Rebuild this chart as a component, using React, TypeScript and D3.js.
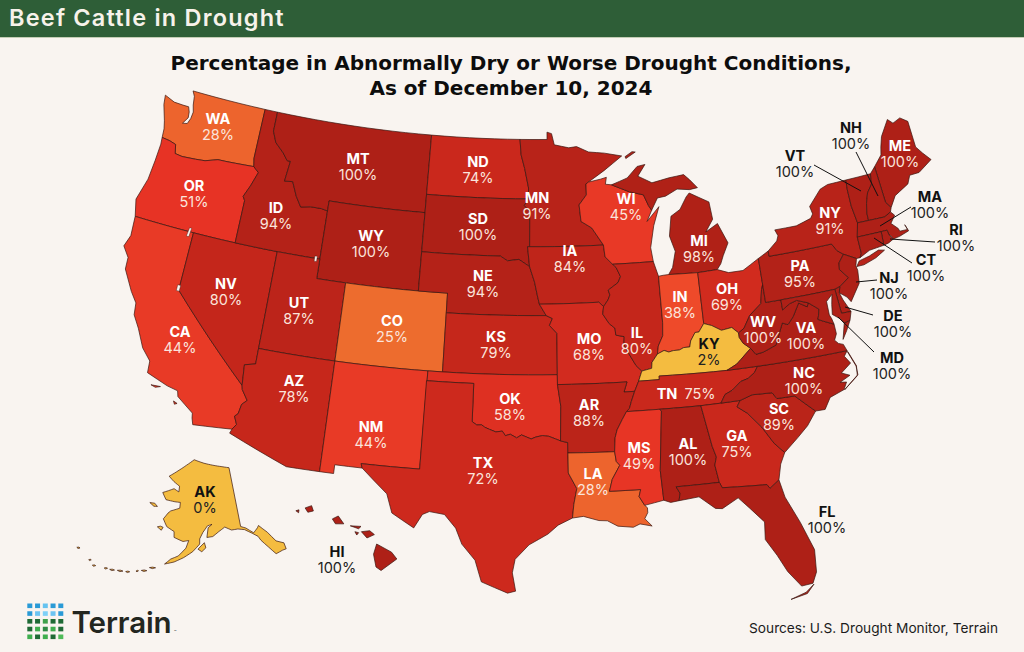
import { useEffect, useRef } from 'react';
import * as d3 from 'd3';

type Pt = [number, number];

const rev = (a: Pt[]): Pt[] => [...a].reverse();

// Drought share per state
const stateCodes = ['WA','OR','CA','NV','ID','MT','WY','UT','AZ','CO','NM','ND','SD','NE','KS','OK','TX','MN','IA','MO','AR','LA','WI','IL','MI','IN','OH','KY','TN','MS','AL','GA','FL','SC','NC','VA','WV','PA','NY','ME','VT','NH','MA','RI','CT','NJ','DE','MD','AK','HI'];
const statePct = [28,51,44,80,94,100,100,87,78,25,44,74,100,94,79,58,72,91,84,68,88,28,45,80,98,38,69,2,75,49,100,75,100,89,100,100,100,95,91,100,100,100,100,100,100,100,100,100,0,100];

// Shared borders, lon/lat
const waOr: Pt[] = [[-124,46.25],[-123.4,46.2],[-122.9,46.1],[-122.75,45.65],[-122.2,45.6],[-121.2,45.65],[-120.5,45.7],[-119.6,45.92],[-119,45.93],[-116.92,46]];
const orId: Pt[] = [[-116.92,46],[-116.5,45.75],[-116.85,45],[-117.2,44.4],[-117.03,44.2],[-117.03,42]];
const caAz: Pt[] = [[-114.63,35],[-114.57,34.8],[-114.14,34.3],[-114.43,34.05],[-114.53,33.55],[-114.72,33.4],[-114.5,33],[-114.72,32.72]];
const idMt: Pt[] = [[-116.05,48],[-115.7,47.45],[-115,47],[-114.6,46.65],[-114.35,46.65],[-114.5,45.6],[-113.9,45.65],[-113.45,44.95],[-113,44.45],[-112.3,44.55],[-111.5,44.55],[-111.05,44.48]];
const mnNd: Pt[] = [[-97.23,49],[-97.13,48.2],[-96.85,47.5],[-96.55,46.5],[-96.56,45.94]];
const mnSd: Pt[] = [[-96.56,45.94],[-96.85,45.6],[-96.45,45.3],[-96.45,43.5]];
const neSd: Pt[] = [[-104.05,43],[-98.5,43],[-98,42.77],[-97.2,42.85],[-96.45,42.49]];
const neIa: Pt[] = [[-96.45,42.49],[-96.1,41.7],[-95.9,41],[-95.77,40.58]];
const ksMo: Pt[] = [[-95.31,40],[-94.9,39.85],[-95.1,39.5],[-94.61,39.1],[-94.62,37]];
const okTx: Pt[] = [[-100,34.56],[-99.7,34.4],[-99.4,34.42],[-99.2,34.3],[-98.9,34.2],[-98.5,34.08],[-98.1,34.13],[-97.9,33.9],[-97.6,33.98],[-97.2,33.8],[-96.9,33.95],[-96.6,33.85],[-96.3,33.75],[-96,33.85],[-95.6,33.92],[-95.2,33.88],[-94.8,33.75],[-94.48,33.64]];
const iaIl: Pt[] = [[-90.65,42.5],[-90.42,42.33],[-90.15,41.85],[-90.35,41.55],[-91.05,41.2],[-90.95,40.95],[-91.1,40.7],[-91.42,40.38]];
const moIl: Pt[] = [[-91.42,40.38],[-91.5,40],[-91.1,39.5],[-90.73,39.25],[-90.7,38.9],[-90.15,38.8],[-90.2,38.4],[-89.9,37.9],[-89.5,37.3],[-89.15,37]];
const arTn: Pt[] = [[-89.7,36],[-89.95,35.5],[-90.1,35.15],[-90.3,35]];
const arMs: Pt[] = [[-90.3,35],[-90.6,34.6],[-90.95,34.1],[-91.1,33.7],[-91.17,33]];
const laMs: Pt[] = [[-91.17,33],[-91.1,32.5],[-90.9,32.3],[-91.4,31.6],[-91.6,31],[-89.73,31],[-89.85,30.65],[-89.55,30.18]];
const txLa: Pt[] = [[-94.04,33.02],[-94.04,32],[-93.55,31.2],[-93.75,30.4],[-93.85,29.7]];
const wiMn: Pt[] = [[-92.1,46.75],[-92.29,46.66],[-92.29,46.1],[-92.85,45.6],[-92.75,44.75],[-92,44.4],[-91.22,43.5]];
const wiIa: Pt[] = [[-91.22,43.5],[-91.15,42.9],[-90.65,42.5]];
const wiMi: Pt[] = [[-90.4,46.55],[-89.1,46.13],[-88.1,45.92],[-87.8,45.35],[-87.6,45.1]];
const ohioIl: Pt[] = [[-89.15,37],[-88.5,37.1],[-88.45,37.4],[-88.05,37.8]];
const ohioIn: Pt[] = [[-88.05,37.8],[-87.6,37.95],[-87.3,37.85],[-87,37.9],[-86.6,37.9],[-86.3,38],[-85.9,38],[-85.8,38.3],[-85.45,38.7],[-85.2,38.7],[-84.81,39.1]];
const ohioOh: Pt[] = [[-84.81,39.1],[-84.3,38.95],[-83.7,38.65],[-83,38.72],[-82.6,38.4]];
const ohioWv: Pt[] = [[-82.6,38.4],[-82.2,38.6],[-81.7,39.2],[-80.85,39.7],[-80.65,40.4],[-80.52,40.64]];
const tnNc: Pt[] = [[-84.32,34.99],[-84,35.4],[-83.5,35.57],[-82.9,35.95],[-82.4,36.05],[-81.95,36.3],[-81.7,36.59]];
const vaWv: Pt[] = [[-81.97,37.54],[-81.68,37.2],[-81.2,37.25],[-80.3,37.5],[-80,38],[-79.65,38.55],[-79.3,38.42],[-78.87,38.77],[-78.35,39.4],[-77.83,39.13],[-77.72,39.32]];
const vaMd: Pt[] = [[-77.72,39.32],[-77.1,38.9],[-77.2,38.6],[-77.3,38.4],[-76.95,38.25],[-76.32,38]];
const mdWv: Pt[] = [[-77.72,39.32],[-78.45,39.55],[-78.95,39.45],[-79.48,39.2],[-79.48,39.72]];
const scGa: Pt[] = [[-83.1,35],[-83.35,34.7],[-82.75,34.3],[-82,33.5],[-81.4,32.6],[-80.85,32.05]];
const ncSc: Pt[] = [[-83.1,35],[-82.3,35.2],[-81.04,35.15],[-80.8,34.82],[-79.67,34.8],[-78.55,33.86]];
const alGa: Pt[] = [[-85.6,34.98],[-85.18,32.87],[-85,32.3],[-85.15,31.9],[-85,31]];
const flGa: Pt[] = [[-85,31],[-84.86,30.71],[-82.2,30.57],[-82.05,30.36],[-81.45,30.72]];
const nyVt: Pt[] = [[-73.34,45.01],[-73.4,44.5],[-73.4,43.65],[-73.25,42.75]];
const vtNh: Pt[] = [[-71.5,45.01],[-71.6,44.5],[-72.05,44.1],[-72.3,43.6],[-72.45,43.1],[-72.46,42.73]];
const nhMe: Pt[] = [[-71.08,45.3],[-70.98,43.4],[-70.7,43.07]];
const paNj: Pt[] = [[-74.7,41.36],[-75.13,40.98],[-75.2,40.65],[-74.72,40.15],[-75.42,39.8]];
const njDe: Pt[] = [[-75.42,39.8],[-75.55,39.5]];

const stateRings: Record<string, Pt[][]> = {
  WA: [[[-124.7,48.38],[-123.9,48.17],[-123.2,48.15],[-122.75,48.15],[-122.6,47.9],[-122.55,47.6],[-122.85,47.25],[-122.5,47.3],[-122.35,47.6],[-122.3,47.95],[-122.45,48.3],[-122.55,48.75],[-122.76,49],[-117.03,49],[-117.04,46.42],...rev(waOr),[-124.05,46.7],[-124.2,47.1],[-124.6,47.9]]],
  OR: [[...waOr,...orId,[-120,42],[-124.2,42],[-124.5,42.85],[-124.1,44],[-124,45],[-123.95,45.9]]],
  CA: [[[-124.2,42],[-120,42],[-120,39],...caAz,[-117.12,32.53],[-117.25,32.85],[-117.3,33.1],[-118.4,33.75],[-118.5,34.03],[-119.2,34.15],[-120.6,34.55],[-120.65,35.15],[-121.3,35.7],[-121.9,36.6],[-122.4,37.2],[-122.5,37.8],[-123,38.3],[-123.8,39.3],[-123.85,39.9],[-124.35,40.4],[-124.1,41]],[[-120.2,34],[-119.6,34.03],[-119.9,33.93]],[[-118.6,33.48],[-118.35,33.4],[-118.5,33.33]]],
  NV: [[[-120,42],[-114.05,42],[-114.05,36.2],[-114.74,36.05],[-114.63,35],[-120,39]]],
  ID: [[[-117.03,49],[-116.05,49],...idMt,[-111.05,42],...rev(orId),[-117.04,46.42]]],
  MT: [[[-116.05,49],[-104.05,49],[-104.05,45],[-111.05,45],...rev(idMt)]],
  WY: [[[-111.05,45],[-104.05,45],[-104.05,41],[-111.05,41]]],
  UT: [[[-114.05,42],[-111.05,42],[-111.05,41],[-109.05,41],[-109.05,37],[-114.05,37]]],
  AZ: [[[-114.05,37],[-109.05,37],[-109.05,31.33],[-111.07,31.33],[-114.81,32.5],...rev(caAz),[-114.74,36.05],[-114.05,36.2]]],
  CO: [[[-109.05,41],[-102.05,41],[-102.05,37],[-109.05,37]]],
  NM: [[[-109.05,37],[-103,37],[-103.06,32],[-106.62,32],[-106.53,31.78],[-108.2,31.78],[-108.2,31.33],[-109.05,31.33]]],
  ND: [[[-104.05,49],...mnNd,[-104.05,45.94]]],
  SD: [[[-104.05,45.94],...mnSd,[-96.6,43.5],[-96.45,42.49],...rev(neSd)]],
  NE: [[...neSd,...neIa,[-95.31,40],[-102.05,40],[-102.05,41],[-104.05,41]]],
  KS: [[[-102.05,40],...ksMo,[-102.05,37]]],
  OK: [[[-103,37],[-94.62,37],[-94.62,36.5],[-94.43,35.4],...rev(okTx),[-100,36.5],[-103,36.5]]],
  TX: [[[-103.04,36.5],[-100,36.5],...okTx,[-94.04,33.55],...txLa,[-94.7,29.35],[-95.3,28.9],[-96.4,28.35],[-97.2,27.6],[-97.35,26.9],[-97.15,25.96],[-97.6,25.85],[-99.1,26.4],[-99.5,27.5],[-100.3,28.3],[-100.7,29.1],[-101.4,29.77],[-102.3,29.87],[-102.7,29.7],[-103.15,28.98],[-104.5,29.65],[-104.9,30.6],[-106.53,31.78],[-106.62,32],[-103.06,32]]],
  MN: [[[-97.23,49],[-95.15,49],[-95.15,49.38],[-94.8,49.3],[-94.6,48.72],[-93.5,48.55],[-92.9,48.6],[-92,48.3],[-90.8,48.2],[-89.5,48],[-90.9,47.3],...wiMn,[-96.45,43.5],...rev(mnSd),...rev(mnNd)]],
  IA: [[[-96.6,43.5],[-91.22,43.5],...wiIa,...iaIl,[-91.73,40.61],[-95.77,40.58],...rev(neIa)]],
  MO: [[[-95.77,40.58],[-91.73,40.61],...moIl,[-89.4,36.5],[-89.7,36],[-90.38,36],[-90.15,36.5],[-94.62,36.5],...rev(ksMo)]],
  AR: [[[-94.62,36.5],[-90.15,36.5],[-90.38,36],...arTn,...arMs,[-94.04,33.02],[-94.04,33.55],[-94.48,33.64],[-94.43,35.4]]],
  LA: [[[-94.04,33.02],...laMs,[-89.4,30.05],[-89.4,29.8],[-89.6,29.5],[-89.2,29.1],[-89.9,29.25],[-90.3,29.1],[-91.2,29.2],[-91.8,29.5],[-92.3,29.53],[-93.2,29.77],...rev(txLa)]],
  WI: [[[-92.1,46.75],[-91.2,46.87],[-90.75,46.95],[-90.85,46.6],...wiMi,[-88,44.55],[-87.05,45.25],[-87.55,44.3],[-87.9,43.2],[-87.8,42.49],...rev(wiIa),...rev(wiMn)]],
  IL: [[[-90.65,42.5],[-87.8,42.49],[-87.53,41.72],[-87.53,39.35],[-87.6,38.7],[-87.95,38.2],...rev(ohioIl),...rev(moIl),...rev(iaIl)]],
  MI: [
    [[-86.82,41.76],[-86.5,42.1],[-86.2,42.9],[-86.5,43.7],[-86.25,44.7],[-85.55,45],[-85,45.6],[-84.75,45.78],[-83.4,45.2],[-83.3,44.3],[-83.9,43.7],[-83,44.05],[-82.45,43],[-82.9,42.4],[-83.15,42],[-83.45,41.73],[-84.81,41.7]],
    [...wiMi,[-87.1,45.7],[-86.5,45.75],[-85.6,46.05],[-84.7,45.95],[-84.1,46],[-84.6,46.45],[-85,46.75],[-86.1,46.67],[-87.4,46.5],[-88.4,46.9],[-87.8,47.47],[-88.4,47.4],[-89.2,46.85]],
    [[-89.2,47.85],[-88.45,48.15],[-88.7,48.18],[-89.25,47.95]],
  ],
  IN: [[[-87.53,41.72],[-87.2,41.75],[-86.82,41.76],[-84.81,41.7],...rev(ohioIn),[-87.95,38.2],[-87.6,38.7],[-87.53,39.35]]],
  OH: [[[-84.81,41.7],[-83.45,41.73],[-82.7,41.5],[-81.7,41.5],[-80.52,41.98],...rev(ohioWv),...rev(ohioOh)]],
  KY: [[...ohioIl,...ohioIn,...ohioOh,[-82.6,38.17],[-82.4,37.85],[-81.97,37.54],[-82.7,37.05],[-83,36.85],[-83.68,36.6],[-88.06,36.68],[-88.07,36.5],[-89.4,36.5]]],
  TN: [[[-90.3,35],[-88.2,35],[-85.6,34.98],...tnNc,[-83.68,36.6],[-88.06,36.68],[-88.07,36.5],[-89.4,36.5],...arTn]],
  MS: [[[-90.3,35],[-88.2,35],[-88.1,34.9],[-88.47,31.9],[-88.4,30.37],[-89.55,30.18],...rev(laMs),...rev(arMs)]],
  AL: [[[-88.2,35],...alGa,[-87.6,31],[-87.4,30.65],[-87.5,30.28],[-88,30.23],[-88.4,30.37],[-88.47,31.9],[-88.1,34.9]]],
  GA: [[[-85.6,34.98],...scGa,[-81.2,31.5],...rev(flGa),...rev(alGa)]],
  FL: [[[-87.6,31],...flGa,[-81.25,29.8],[-80.6,28.4],[-80.05,26.9],[-80.15,25.75],[-80.45,25.2],[-81.1,25.15],[-81.75,26],[-82.2,26.9],[-82.75,27.8],[-82.65,28.7],[-83.4,29.5],[-84,30.1],[-85,29.65],[-85.4,29.7],[-86.3,30.38],[-87.5,30.28],[-87.4,30.65]],[[-80.4,25.15],[-80.9,24.8],[-81.8,24.55],[-80.85,24.72]]],
  SC: [[...ncSc,[-79.2,33.2],[-79.9,32.7],...rev(scGa)]],
  NC: [[[-84.32,34.99],...ncSc,[-77.95,33.85],[-77.5,34.4],[-76.55,34.65],[-76.3,35],[-76.7,35.05],[-76,35.3],[-76.5,35.5],[-75.8,35.9],[-76.1,36.3],[-75.85,36.55],[-81.7,36.59],...rev(tnNc)],[[-75.85,36.5],[-75.5,35.7],[-75.5,35.25],[-76.5,34.65],[-76.52,34.63],[-75.55,35.2],[-75.47,35.7],[-75.82,36.5]]],
  VA: [[[-75.85,36.55],[-81.7,36.59],[-83.68,36.6],[-83,36.85],[-82.7,37.05],...vaWv,...vaMd,[-76.3,37.5],[-76.5,37.2],[-76.3,37],[-76,36.9]],[[-75.95,37.15],[-75.6,37.55],[-75.24,38.03],[-75.65,37.95]]],
  WV: [[[-80.52,40.64],[-80.52,39.72],[-79.48,39.72],...rev(mdWv),...rev(vaWv),[-82.4,37.85],[-82.6,38.17],...ohioWv]],
  PA: [[[-80.52,41.98],[-79.76,42.27],[-79.76,42],[-75.35,42],[-75.07,41.6],...paNj,[-75.79,39.72],[-80.52,39.72]]],
  NY: [[[-79.76,42.27],[-79.05,42.7],[-78.9,42.95],[-79.05,43.27],[-77.5,43.27],[-76.4,43.5],[-76.2,43.7],[-76.3,44.1],[-75.3,44.85],[-74.7,45],...nyVt,[-73.5,42.05],[-73.49,41.2],[-73.65,41],[-73.9,41],[-74.7,41.36],[-75.07,41.6],[-75.35,42],[-79.76,42]],[[-74,40.6],[-73.75,40.85],[-73,40.97],[-72.3,41.15],[-71.9,41.07],[-72.6,40.8],[-73.5,40.6]]],
  ME: [[[-71.08,45.3],[-70.4,45.8],[-70.25,46.2],[-70,46.7],[-69.23,47.46],[-68.9,47.2],[-68.3,47.36],[-67.8,47.07],[-67.8,45.7],[-67.45,45.3],[-67,44.85],[-68.1,44.4],[-68.8,44.4],[-69.1,44],[-69.8,43.75],[-70.2,43.6],...rev(nhMe)]],
  VT: [[...nyVt,[-72.46,42.73],...rev(vtNh)]],
  NH: [[...vtNh,[-71.3,42.7],[-70.82,42.87],[-70.7,43.07],...rev(nhMe)]],
  MA: [[[-73.5,42.05],[-73.25,42.75],[-72.46,42.73],[-71.3,42.7],[-70.82,42.87],[-70.6,42.65],[-71,42.3],[-70.6,41.95],[-70.55,41.8],[-70,41.78],[-70.1,42.05],[-69.95,41.7],[-70.65,41.55],[-71.12,41.5],[-71.2,41.67],[-71.33,41.75],[-71.38,42.02],[-71.8,42.02]]],
  RI: [[[-71.8,42.02],[-71.38,42.02],[-71.33,41.75],[-71.12,41.5],[-71.5,41.37],[-71.86,41.32]]],
  CT: [[[-73.5,42.05],[-71.8,42.02],[-71.86,41.32],[-72.9,41.25],[-73.65,41],[-73.49,41.2]]],
  NJ: [[...paNj,...njDe,[-75.1,39.2],[-74.9,38.93],[-74.1,39.75],[-74,40.4],[-74.05,40.65],[-73.9,41]]],
  DE: [[[-75.79,39.72],[-75.42,39.8],[-75.55,39.5],[-75.4,39.1],[-75.05,38.45],[-75.69,38.46]]],
  MD: [[[-79.48,39.72],[-75.79,39.72],[-75.69,38.46],[-75.05,38.45],[-75.24,38.03],[-75.65,37.95],[-75.85,38.2],[-76.3,38.5],[-76.2,39],[-76.05,39.5],[-76.5,39.2],[-76.5,38.5],[-76.4,38.3],...rev(vaMd),...mdWv.slice(0,4)]],
  AK: [
    [[-141,69.65],[-141,60.3],[-139.5,59.9],[-137.5,58.9],[-136,59.5],[-135.5,59.8],[-133.5,58.4],[-131.9,56.7],[-130,56],[-130,55],[-131,55],[-133,54.8],[-134.5,56.2],[-136,57.5],[-136.5,58.2],[-138,58.9],[-140,59.7],[-142,60],[-144,60],[-146,60.6],[-148,60],[-150,59.3],[-151.8,59.2],[-151.3,60.7],[-150,61.2],[-151.5,61],[-153,60],[-154,59],[-154,58.2],[-156,57],[-158.5,56],[-161,55.2],[-163.5,54.7],[-162,55.6],[-160,56.2],[-158,57.5],[-157.3,58.7],[-159,58.5],[-161.8,59],[-162,59.9],[-164.5,60.5],[-166,61.6],[-164.8,62.6],[-164,63],[-161,63.6],[-161,64.5],[-163,64.5],[-166.3,64.6],[-168,65.6],[-164,66.5],[-162,66.1],[-162,67],[-164.5,67.6],[-166.8,68.3],[-163,69.5],[-160,70.4],[-156.6,71.35],[-152,70.8],[-148,70.4],[-144,70]],
    [[-154.5,57.4],[-153.4,57],[-152.2,57.6],[-152.6,58.4],[-153.6,57.9]],
    [[-167.4,60.2],[-166,59.8],[-165.6,60.3],[-166.5,60.4]],
    [[-171.7,63.6],[-170,63.2],[-168.8,63.3],[-170,63.7]],
  ],
  HI: [
    [[-155.88,20.27],[-155.08,19.85],[-154.8,19.5],[-155.65,18.92],[-155.92,19.1],[-156.05,19.75]],
    [[-156.7,20.9],[-156.25,20.95],[-156,20.75],[-156.4,20.58]],
    [[-158.27,21.55],[-157.95,21.7],[-157.65,21.3],[-158.1,21.3]],
    [[-159.75,22.1],[-159.4,22.22],[-159.3,21.95],[-159.6,21.88]],
    [[-157.3,21.2],[-156.72,21.17],[-156.85,21.05]],
    [[-157.05,20.9],[-156.85,20.85],[-156.95,20.73]],
    [[-160.25,21.95],[-160.08,22],[-160.1,21.85]],
  ],
};

// Small lakes that show as pale holes on the state lines
const lakes: Pt[][] = [
  [[-120.42,41.75],[-120.25,41.75],[-120.2,42.2],[-120.35,42.2]],
  [[-120.15,38.95],[-119.95,38.95],[-119.95,39.25],[-120.15,39.25]],
  [[-111.42,41.85],[-111.25,41.85],[-111.25,42.12],[-111.42,42.12]],
];

// Aleutian chain: [lon, lat, half length in degrees]
const aleutians: [number, number, number][] = [[-166.5,53.8,0.8],[-168.5,53.1,0.7],[-170.2,52.8,0.3],[-172.5,52.3,0.5],[-174.4,52.1,0.7],[-176.4,51.85,0.6],[-178,51.75,0.4],[179,51.45,0.4],[177.5,52,0.3],[173.5,52.9,0.4]];

const labelXY: Record<string, [number, number]> = {
  WA:[218,118],OR:[194,185],CA:[180,331],NV:[226,283],ID:[276,207],MT:[358,158],WY:[371,235],UT:[299,302],AZ:[294,380],CO:[392,320],NM:[371,426],ND:[478,161],SD:[478,218],NE:[483,275],KS:[496,336],OK:[510,398],TX:[483,462],MN:[537,197],IA:[570,250],MO:[589,338],AR:[589,404],LA:[593,473],WI:[626,198],IL:[637,332],MI:[699,240],IN:[680,296],OH:[727,288],KY:[709,343],MS:[639,447],AL:[688,443],GA:[737,435],FL:[827,511],SC:[779,408],NC:[804,372],VA:[806,327],WV:[763,321],PA:[800,265],NY:[830,212],ME:[900,145],VT:[795,155],NH:[851,127],MA:[930,196],RI:[956,229],CT:[926,259],NJ:[889,277],DE:[893,315],MD:[892,357],AK:[205,491],HI:[337,551],
};
const blackLabels = ['KY','AK','HI','FL','VT','NH','MA','RI','CT','NJ','DE','MD'];
const leaders: [number, number, number, number][] = [[814,165,861,191],[856,152,878,196],[911,207,880,226],[935,242,890,239],[912,263,874,238],[877,280,856,282],[873,315,845,307],[874,352,838,317]];

const logoColors = [
  ['#2a9ad6','#2a9ad6','#66c3f0','#2a9ad6','#2a9ad6'],
  ['#2a9ad6','#6cc4f2','#7fd0f7','#6cc4f2','#2a9ad6'],
  ['#1f6a35','#1f6a35','#3fa04c','#1f6a35','#1f6a35'],
  ['#1f6a35','#3fae4e','#2f8a45','#3fae4e','#1f6a35'],
  ['#3fae4e','#1f6a35','#3fae4e','#1f6a35','#4fbb58'],
];

const color = d3.scaleLinear<string>().domain([0, 2, 25, 38, 44, 51, 75, 100])
  .range(['#f4bc40','#f4bc40','#ed6c2e','#ee4a2a','#e83a26','#e73325','#c9281c','#ae2017']);

// long edges follow the parallels, so break them up before projecting
function densify(ring: Pt[]): Pt[] {
  const out: Pt[] = [];
  ring.forEach((p, i) => {
    const q = ring[(i + 1) % ring.length];
    const n = Math.max(1, Math.ceil(Math.abs(q[0] - p[0])));
    for (let k = 0; k < n; k++) out.push([p[0] + ((q[0] - p[0]) * k) / n, p[1] + ((q[1] - p[1]) * k) / n]);
  });
  return out;
}

export default function App() {
  const svgRef = useRef<SVGSVGElement>(null);

  useEffect(() => {
    if (!svgRef.current) return;
    const svg = d3.select(svgRef.current);
    svg.selectAll('*').remove();
    const sans = 'Inter, sans-serif';

    svg.append('rect').attr('width', 1024).attr('height', 652).attr('fill', '#f9f4f0');
    svg.append('rect').attr('width', 1024).attr('height', 37).attr('fill', '#2e5e37');
    svg.append('rect').attr('y', 37).attr('width', 1024).attr('height', 1).attr('fill', '#c3ccb4');
    svg.append('text').attr('x', 9).attr('y', 26).attr('font-size', 23.5).attr('font-weight', 600).attr('letter-spacing', 1.2)
      .attr('fill', '#f7f2ea').style('font-family', sans).text('Beef Cattle in Drought');

    ['Percentage in Abnormally Dry or Worse Drought Conditions,', 'As of December 10, 2024'].forEach((t, i) => {
      svg.append('text').attr('x', 511).attr('y', 70 + i * 24.5).attr('text-anchor', 'middle')
        .attr('font-size', 20).attr('font-weight', 700).attr('fill', '#0d0d0d')
        .style('font-family', '"DejaVu Sans", sans-serif').text(t);
    });

    const lower48 = d3.geoAlbers().rotate([96, 0]).center([0, 37.5]).parallels([29.5, 45.5]).scale(1120).translate([536, 365]);
    const alaska = d3.geoConicEqualArea().rotate([154, 0]).center([-2, 58.5]).parallels([55, 65]).scale(368).translate([193, 542]);
    const hawaii = d3.geoConicEqualArea().rotate([157, 0]).center([-3, 19.9]).parallels([8, 18]).scale(1130).translate([300, 551]);
    const line = d3.line();

    const g = svg.append('g');
    stateCodes.forEach((code, i) => {
      const proj = code === 'AK' ? alaska : code === 'HI' ? hawaii : lower48;
      const rings = [...stateRings[code]];
      if (code === 'AK') aleutians.forEach(([lon, lat, w]) => rings.push([[lon - w, lat - 0.05], [lon, lat + 0.12], [lon + w, lat + 0.1], [lon, lat - 0.12]]));
      const d = rings.map(r => line(densify(r).map(p => proj(p) as [number, number])) + 'Z').join('');
      g.append('path').attr('d', d).attr('fill', color(statePct[i])).attr('stroke', '#3a1510').attr('stroke-width', 0.7).attr('stroke-linejoin', 'round');
    });
    lakes.forEach(r => {
      g.append('path').attr('d', line(r.map(p => lower48(p) as [number, number])) + 'Z').attr('fill', '#f9f4f0').attr('stroke', '#3a1510').attr('stroke-width', 0.4);
    });

    leaders.forEach(([x1, y1, x2, y2]) => {
      svg.append('line').attr('x1', x1).attr('y1', y1).attr('x2', x2).attr('y2', y2).attr('stroke', '#111').attr('stroke-width', 1);
    });

    stateCodes.forEach((code, i) => {
      const black = blackLabels.includes(code);
      const fill = black ? '#111' : '#fff';
      const pct = `${statePct[i]}%`;
      if (code === 'TN') {
        svg.append('text').attr('x', 667).attr('y', 398.5).attr('text-anchor', 'middle').attr('font-size', 14.5).attr('font-weight', 700).attr('fill', fill).style('font-family', sans).text(code);
        svg.append('text').attr('x', 700).attr('y', 398.5).attr('text-anchor', 'middle').attr('font-size', 14.5).attr('fill', '#fbe4dc').style('font-family', sans).text(pct);
        return;
      }
      const [x, y] = labelXY[code];
      svg.append('text').attr('x', x).attr('y', y + 5.5).attr('text-anchor', 'middle').attr('font-size', 14.5).attr('font-weight', 700).attr('fill', fill).style('font-family', sans).text(code);
      svg.append('text').attr('x', x).attr('y', y + 22).attr('text-anchor', 'middle').attr('font-size', 14.5).attr('fill', black ? '#222' : '#fbe4dc').style('font-family', sans).text(pct);
    });

    // Logo
    logoColors.forEach((row, r) => row.forEach((c, k) => {
      svg.append('rect').attr('x', 27.3 + k * 7.75).attr('y', 603.5 + r * 7.75).attr('width', 5).attr('height', 4.6).attr('fill', c);
    }));
    svg.append('text').attr('x', 71.5).attr('y', 633).attr('font-size', 29.5).attr('font-weight', 600).attr('letter-spacing', -0.1)
      .attr('fill', '#23261f').style('font-family', sans).text('Terrain');
    svg.append('text').attr('x', 174).attr('y', 633).attr('font-size', 4).attr('fill', '#23261f').style('font-family', sans).text('™');

    svg.append('text').attr('x', 998).attr('y', 633).attr('text-anchor', 'end').attr('font-size', 13.7).attr('fill', '#1c1c1c').style('font-family', sans)
      .text('Sources: U.S. Drought Monitor, Terrain');
  }, []);

  return <svg ref={svgRef} width={1024} height={652} style={{ position: 'absolute', left: 0, top: 0 }} />;
}
